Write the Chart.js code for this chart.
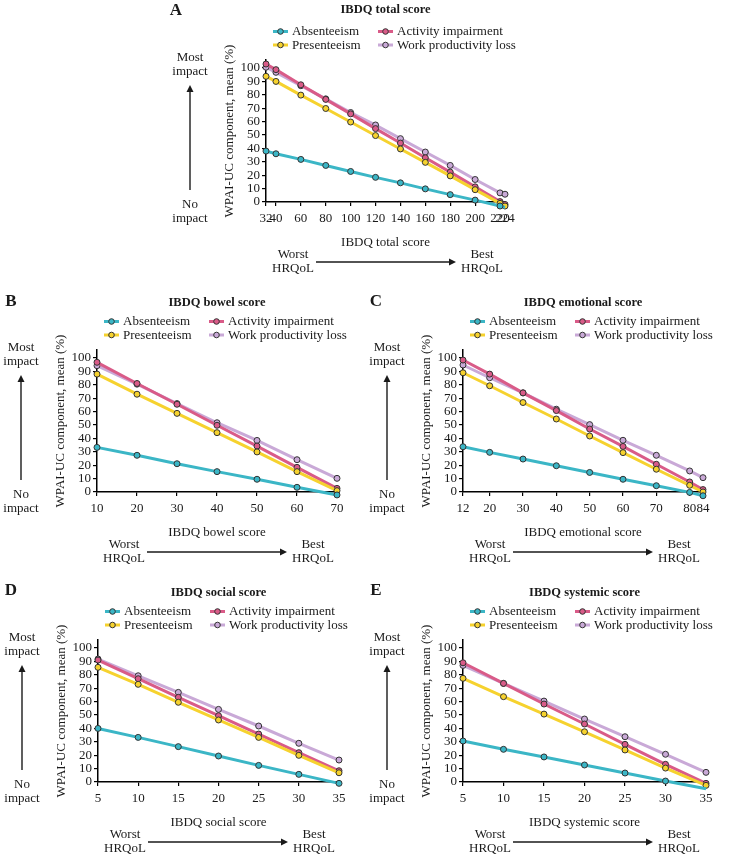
<!DOCTYPE html>
<html><head><meta charset="utf-8">
<script src="https://cdn.jsdelivr.net/npm/chart.js@4.4.1/dist/chart.umd.min.js"></script>
<style>
html,body{margin:0;padding:0;background:#fff;}
body{width:732px;height:855px;position:relative;overflow:hidden;}
canvas{position:absolute;}
</style></head><body>
<canvas id="cA"></canvas><canvas id="cB"></canvas><canvas id="cC"></canvas><canvas id="cD"></canvas><canvas id="cE"></canvas>
<script>
// ---------- data ----------
const seriesNames = ['Absenteeism', 'Presenteeism', 'Activity impairment', 'Work productivity loss'];
const seriesColors = ['#3bb6c6', '#f6d22e', '#d95b88', '#c9a9d7'];
const yTicks = [0, 10, 20, 30, 40, 50, 60, 70, 80, 90, 100];

const totalX = [32, 40, 60, 80, 100, 120, 140, 160, 180, 200, 220, 224];
const totalTicks = [32, 40, 60, 80, 100, 120, 140, 160, 180, 200, 220, 224];
const totalAbs = [38, 36, 31.8, 27.3, 22.8, 18.4, 14.3, 9.8, 5.5, 1.4, -3, -4];
const totalPres = [93.8, 90, 79.8, 69.8, 59.7, 49.6, 39.6, 29.6, 19.5, 9.2, -1, -3];
const totalAct = [103, 98.8, 87.5, 76.6, 65.8, 54.8, 44, 33, 22.3, 11.3, 0.3, -1.8];
const totalWpl = [100.6, 96.8, 86.8, 77, 66.8, 57.5, 47.3, 37.3, 27.3, 16.8, 6.8, 5.8];

const bowelX = [10, 20, 30, 40, 50, 60, 70];
const bowelTicks = [10, 20, 30, 40, 50, 60, 70];
const bowelAbs = [33.3, 27.4, 21.1, 15.2, 9.5, 3.5, -2.2];
const bowelPres = [88, 73, 58.7, 44.3, 29.9, 15.2, 1];
const bowelAct = [96.8, 81, 65.5, 49.8, 34.3, 18.4, 2.7];
const bowelWpl = [94.3, 80.5, 66, 51.7, 38.5, 24.1, 10.2];

const emoX = [12, 20, 30, 40, 50, 60, 70, 80, 84];
const emoTicks = [12, 20, 30, 40, 50, 60, 70, 80, 84];
const emoAbs = [33.8, 29.6, 24.6, 19.6, 14.6, 9.5, 4.7, -0.3, -2.8];
const emoPres = [89, 79.3, 66.8, 54.5, 41.8, 29.4, 17, 5, 0];
const emoAct = [98.5, 88, 74, 60.8, 47, 34, 20.7, 7.5, 1.8];
const emoWpl = [94.8, 85.3, 74, 61.8, 50.3, 38.6, 27.4, 15.7, 10.7];

const socX = [5, 10, 15, 20, 25, 30, 35];
const socTicks = [5, 10, 15, 20, 25, 30, 35];
const socAbs = [40, 33.3, 26.4, 19.4, 12.4, 5.7, -1];
const socPres = [85.6, 72.9, 59.5, 46.3, 33.3, 19.9, 6.9];
const socAct = [91, 77.1, 63.2, 49.5, 35.8, 21.9, 8.4];
const socWpl = [91.8, 79.3, 66.9, 54.2, 41.8, 28.9, 16.4];

const sysX = [5, 10, 15, 20, 25, 30, 35];
const sysTicks = [5, 10, 15, 20, 25, 30, 35];
const sysAbs = [30.6, 24.4, 18.7, 12.7, 6.7, 0.7, -5];
const sysPres = [77.4, 63.7, 50.7, 37.5, 23.9, 10.4, -2.5];
const sysAct = [89, 73.6, 58.2, 43.3, 28.1, 13.2, -1];
const sysWpl = [87, 73.6, 60.4, 47, 33.8, 20.7, 7.2];

// ---------- drawing ----------
Chart.defaults.font.family = '"Liberation Serif", serif';
Chart.defaults.color = '#1a1a1a';
const INK = '#1a1a1a';
const FONT = '13px "Liberation Serif", serif';

function arrow(ctx, x1, y1, x2, y2) {
  const a = Math.atan2(y2 - y1, x2 - x1), h = 7, w = 3.5;
  const bx = x2 - h * Math.cos(a), by = y2 - h * Math.sin(a);
  ctx.lineWidth = 1.4; ctx.strokeStyle = INK; ctx.fillStyle = INK;
  ctx.beginPath(); ctx.moveTo(x1, y1); ctx.lineTo(bx, by); ctx.stroke();
  ctx.beginPath(); ctx.moveTo(x2, y2);
  ctx.lineTo(bx + w * Math.sin(a), by - w * Math.cos(a));
  ctx.lineTo(bx - w * Math.sin(a), by + w * Math.cos(a));
  ctx.closePath(); ctx.fill();
}

const deco = {
  id: 'deco',
  afterDraw(chart, args, o) {
    const ctx = chart.ctx, ca = chart.chartArea;
    ctx.save();
    ctx.fillStyle = INK; ctx.textBaseline = 'middle'; ctx.textAlign = 'center';
    ctx.font = 'bold 17px "Liberation Serif", serif';
    ctx.fillText(o.letter, o.letterX, o.letterY);
    ctx.font = 'bold 12.5px "Liberation Serif", serif';
    ctx.fillText(o.title, (ca.left + ca.right) / 2, ca.top + o.titleDy);
    // legend
    ctx.font = FONT; ctx.textAlign = 'left';
    chart.data.datasets.forEach((ds, i) => {
      const col = Math.floor(i / 2), row = i % 2;
      const x0 = ca.left + 7 + col * 105, y = ca.top - 28.5 + row * 13.5;
      ctx.strokeStyle = ds.borderColor; ctx.lineWidth = 3;
      ctx.beginPath(); ctx.moveTo(x0, y); ctx.lineTo(x0 + 15, y); ctx.stroke();
      ctx.beginPath(); ctx.arc(x0 + 7.5, y, 2.8, 0, Math.PI * 2);
      ctx.fillStyle = ds.pointBackgroundColor; ctx.fill();
      ctx.lineWidth = 1; ctx.strokeStyle = '#333'; ctx.stroke();
      ctx.fillStyle = INK; ctx.fillText(ds.label, x0 + 19, y + 0.5);
    });
    // vertical annotation
    ctx.textAlign = 'center';
    const ax = ca.left - 76;
    ctx.fillText('Most', ax, ca.top - 2);
    ctx.fillText('impact', ax, ca.top + 12);
    arrow(ctx, ax, ca.bottom - 12, ax, ca.top + 25);
    ctx.fillText('No', ax, ca.bottom + 3);
    ctx.fillText('impact', ax, ca.bottom + 17);
    // horizontal annotation
    const by = ca.bottom + 60;
    ctx.fillText('Worst', ca.left + 27, by - 7);
    ctx.fillText('HRQoL', ca.left + 27, by + 7);
    arrow(ctx, ca.left + 50, by, ca.left + 190, by);
    ctx.fillText('Best', ca.left + 216, by - 7);
    ctx.fillText('HRQoL', ca.left + 216, by + 7);
    ctx.restore();
  }
};

const WY = 44, HX = 48;
function panel(id, rect, area, xs, ticks, series, xTitle, letter, letterPos, title, titleDy) {
  const cv = document.getElementById(id);
  cv.width = rect.w; cv.height = rect.h;
  cv.style.left = rect.x + 'px'; cv.style.top = rect.y + 'px';
  const top = area.B - 142;
  const pad = { left: area.L - rect.x - WY, right: rect.x + rect.w - area.R, top: top - rect.y, bottom: rect.y + rect.h - area.B - HX };
  const datasets = series.map((vals, i) => ({
    label: seriesNames[i],
    data: xs.map((x, j) => ({ x: x, y: vals[j] })),
    borderColor: seriesColors[i], backgroundColor: seriesColors[i],
    pointBackgroundColor: seriesColors[i], pointBorderColor: '#333',
    pointBorderWidth: 1, pointRadius: 3, borderWidth: 3, tension: 0, clip: false
  }));
  new Chart(cv, {
    type: 'line',
    data: { datasets },
    plugins: [deco],
    options: {
      responsive: false, animation: false, devicePixelRatio: 1,
      layout: { padding: pad },
      plugins: { legend: { display: false }, tooltip: { enabled: false },
        deco: { letter, letterX: letterPos[0] - rect.x, letterY: letterPos[1] - rect.y, title, titleDy } },
      scales: {
        x: {
          type: 'linear', min: ticks[0], max: ticks[ticks.length - 1],
          afterBuildTicks: s => { s.ticks = ticks.map(v => ({ value: v })); },
          afterFit: s => { s.height = HX; s.paddingLeft = 0; s.paddingRight = 0; },
          ticks: { autoSkip: false, maxRotation: 0, font: { size: 13 }, color: INK, padding: 5 },
          grid: { drawOnChartArea: false, tickLength: 4, color: '#000', lineWidth: 1.2 },
          border: { color: '#000', width: 1.5 },
          title: { display: true, text: xTitle, font: { size: 13 }, color: INK, padding: 0 }
        },
        y: {
          type: 'linear', min: 0, max: 106,
          afterBuildTicks: s => { s.ticks = yTicks.map(v => ({ value: v })); },
          afterFit: s => { s.width = WY; s.paddingTop = 0; s.paddingBottom = 0; },
          ticks: { autoSkip: false, font: { size: 13 }, color: INK, padding: 2 },
          grid: { drawOnChartArea: false, tickLength: 4, color: '#000', lineWidth: 1.2 },
          border: { color: '#000', width: 1.5 },
          title: { display: true, text: 'WPAI-UC component, mean (%)', font: { size: 13 }, color: INK, padding: 0 }
        }
      }
    }
  });
}

panel('cA', { x: 140, y: 0, w: 420, h: 288 }, { L: 266, R: 505, B: 202 }, totalX, totalTicks,
  [totalAbs, totalPres, totalAct, totalWpl], 'IBDQ total score', 'A', [176, 11], 'IBDQ total score', -50);
panel('cB', { x: 0, y: 290, w: 370, h: 285 }, { L: 97, R: 337, B: 492 }, bowelX, bowelTicks,
  [bowelAbs, bowelPres, bowelAct, bowelWpl], 'IBDQ bowel score', 'B', [11, 302], 'IBDQ bowel score', -47.5);
panel('cC', { x: 366, y: 290, w: 366, h: 285 }, { L: 463, R: 703, B: 492 }, emoX, emoTicks,
  [emoAbs, emoPres, emoAct, emoWpl], 'IBDQ emotional score', 'C', [376, 302], 'IBDQ emotional score', -47.5);
panel('cD', { x: 0, y: 580, w: 370, h: 275 }, { L: 98, R: 339, B: 782 }, socX, socTicks,
  [socAbs, socPres, socAct, socWpl], 'IBDQ social score', 'D', [11, 591], 'IBDQ social score', -47.5);
panel('cE', { x: 366, y: 580, w: 366, h: 275 }, { L: 463, R: 706, B: 782 }, sysX, sysTicks,
  [sysAbs, sysPres, sysAct, sysWpl], 'IBDQ systemic score', 'E', [376, 591], 'IBDQ systemic score', -47.5);
</script>
</body></html>
